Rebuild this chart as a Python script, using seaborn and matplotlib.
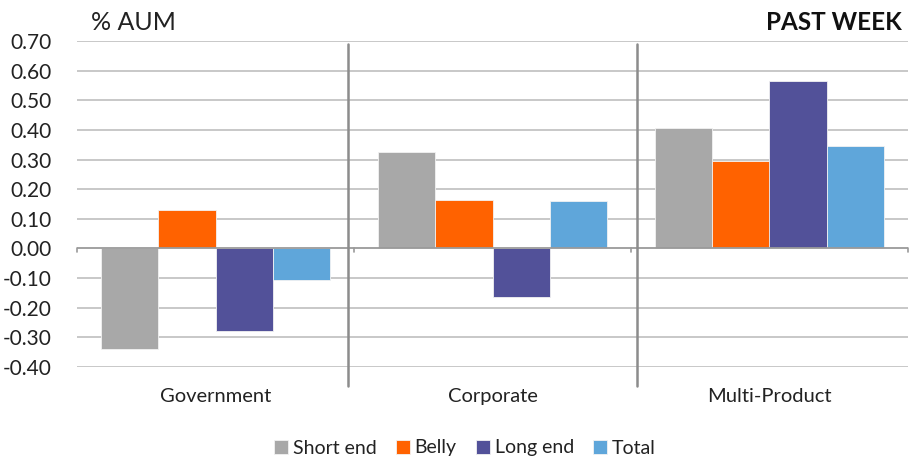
import matplotlib
matplotlib.use("Agg")
import matplotlib.pyplot as plt
import seaborn as sns
import pandas as pd
import numpy as np

# Weekly flows by curve segment, % of AUM
categories = ["Government", "Corporate", "Multi-Product"]
series = ["Short end", "Belly", "Long end", "Total"]
short_end = [-0.34, 0.325, 0.405]
belly = [0.13, 0.165, 0.295]
long_end = [-0.28, -0.165, 0.565]
total = [-0.105, 0.16, 0.345]
y_ticks = [0.70, 0.60, 0.50, 0.40, 0.30, 0.20, 0.10, 0.00, -0.10, -0.20, -0.30, -0.40]
y_tick_labels = ["0.70", "0.60", "0.50", "0.40", "0.30", "0.20", "0.10", "0.00",
                 "-0.10", "-0.20", "-0.30", "-0.40"]

colors = ["#A8A8A8", "#FF6200", "#525199", "#5FA6DA"]

df = pd.DataFrame({
    "category": categories * 4,
    "series": [s for s in series for _ in categories],
    "value": short_end + belly + long_end + total,
})

sns.set_style("white")
plt.rcParams["font.family"] = ["Lato", "DejaVu Sans"]
text_color = "#222222"

fig = plt.figure(figsize=(9.1, 4.59), dpi=100)
ax = fig.add_axes([77 / 910, 1 - 367 / 459, (908 - 77) / 910, (367 - 41) / 459])

sns.barplot(data=df, x="category", y="value", hue="series", order=categories,
            hue_order=series, palette=colors, width=0.83, ax=ax,
            saturation=1, errorbar=None, legend=True, zorder=3,
            edgecolor="#F2F2F2", linewidth=0.6)

ax.set_xlim(-0.5, 2.5)
ax.set_ylim(-0.40, 0.70)
ax.set_yticks(y_ticks)
ax.set_yticklabels(y_tick_labels)
ax.set_xlabel("")
ax.set_ylabel("")

for s in ax.spines.values():
    s.set_visible(False)

# Horizontal gridlines
for t in y_ticks:
    if t != 0:
        ax.axhline(t, color="#C4C4C4", lw=1.3, zorder=1)
ax.axhline(0, color="#9A9A9A", lw=1.3, zorder=4)

# Small tick marks on the zero line at category boundaries
for b in [-0.5, 0.5, 1.5, 2.5]:
    ax.plot([b, b], [0, -0.012], color="#9A9A9A", lw=1.2, zorder=4, clip_on=False)

# Vertical separators between the groups
for b in [0.48, 1.52]:
    ax.plot([b, b], [0.69, -0.465], color="#8C8C8C", lw=1.8, zorder=5, clip_on=False)

ax.tick_params(axis="y", length=0, pad=18, labelsize=15, labelcolor=text_color)
ax.tick_params(axis="x", length=0, pad=15, labelsize=14.5, labelcolor=text_color)
for lbl in ax.get_yticklabels():
    lbl.set_horizontalalignment("right")

fig.text(91 / 910, 1 - 22 / 459, "% AUM", fontsize=18, color=text_color,
         ha="left", va="center")
fig.text(902 / 910, 1 - 22 / 459, "PAST WEEK", fontsize=17.5, fontweight="bold",
         color="#111111", ha="right", va="center")

handles, labels = ax.get_legend_handles_labels()
ax.legend_.remove()
fig.legend(handles, labels, loc="center", bbox_to_anchor=(0.511, 1 - 448 / 459),
           ncol=4, frameon=False, fontsize=14, handlelength=0.7, handleheight=0.7,
           handletextpad=0.25, columnspacing=1.0, labelcolor=text_color)

fig.savefig("out.png", dpi=100)
